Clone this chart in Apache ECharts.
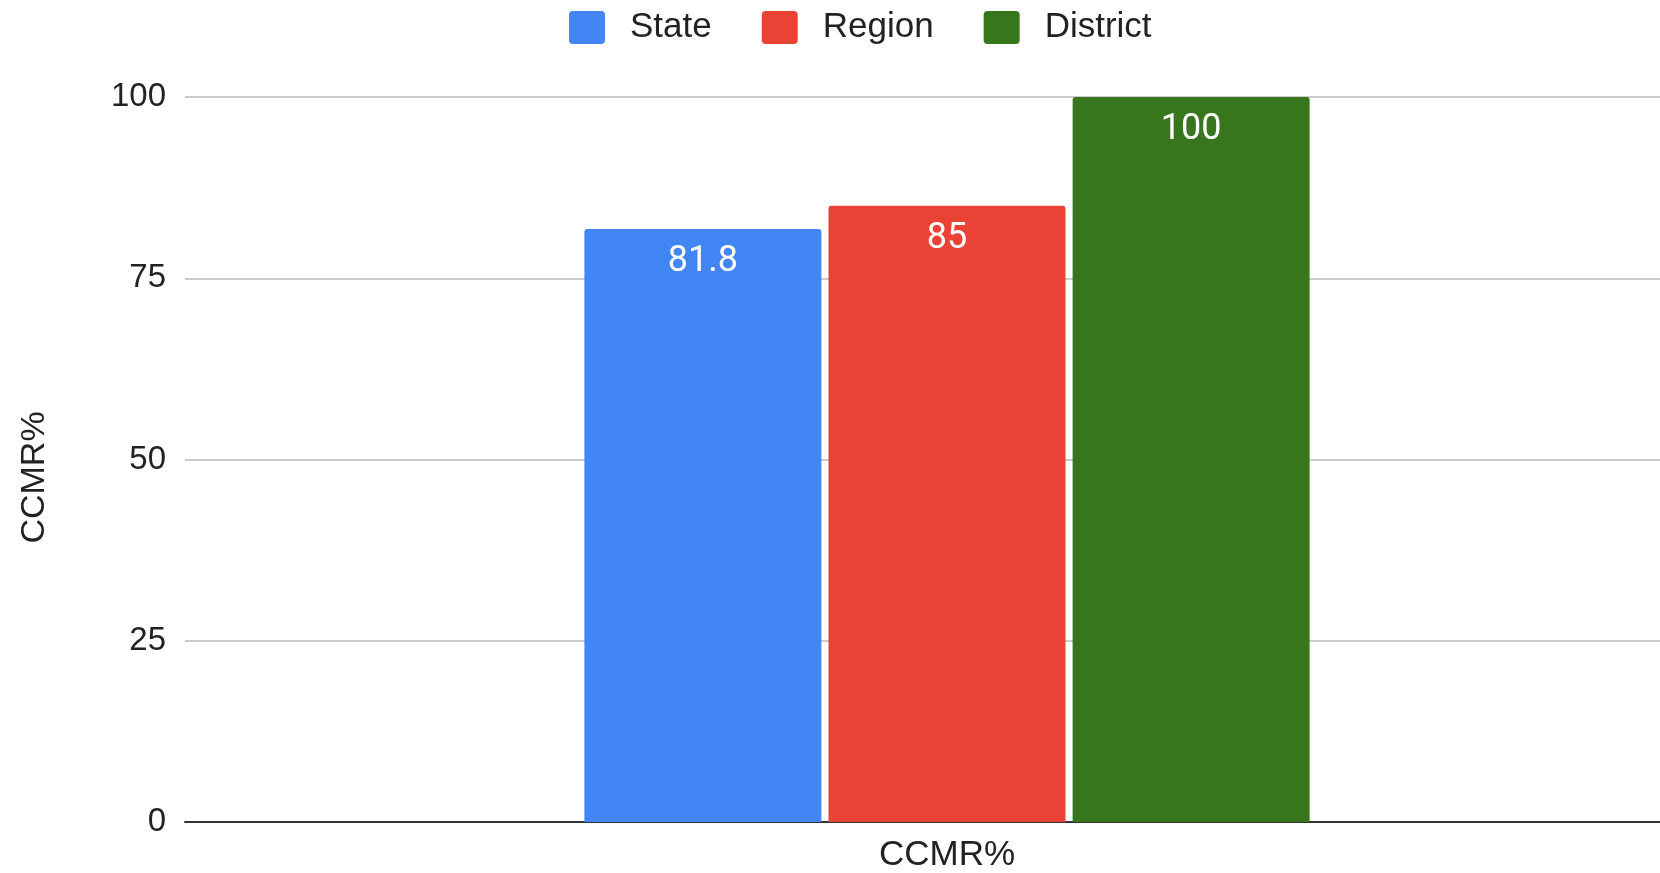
<!DOCTYPE html>
<html>
<head>
<meta charset="utf-8">
<script src="https://cdn.jsdelivr.net/npm/echarts@6/dist/echarts.min.js"></script>
<style>
    html, body { margin: 0; padding: 0; background: #fff; }
    #chart { width: 1660px; height: 873px; }
</style>
</head>
<body>
<div id="chart"></div>
<script>
    'use strict';

    var categories = ['CCMR%'];
    var seriesNames = ['State', 'Region', 'District'];
    var stateValues = [81.8];
    var regionValues = [85];
    var districtValues = [100];
    var yTicks = [0, 25, 50, 75, 100];

    var colors = ['#4285f4', '#ea4335', '#38761d'];
    var seriesValues = [stateValues, regionValues, districtValues];

    // small rounded square for the legend
    var legendIcon = 'path://M4,0 H32 Q36,0 36,4 V29 Q36,33 32,33 H4 Q0,33 0,29 V4 Q0,0 4,0 Z';

    var chart = echarts.init(document.getElementById('chart'));

    var series = seriesNames.map(function(name, i) {
        return {
            name: name,
            type: 'bar',
            data: seriesValues[i],
            barWidth: 237,
            barGap: '3%',
            itemStyle: { color: colors[i], borderRadius: [3, 3, 0, 0] },
            label: {
                show: true,
                position: 'insideTop',
                distance: 15,
                color: '#fff',
                fontSize: 36,
                fontFamily: 'Roboto',
                fontWeight: 'normal'
            }
        };
    });

    chart.setOption({
        animation: false,
        textStyle: { fontFamily: '"Liberation Sans", Arial, sans-serif' },
        legend: {
            left: 569,
            top: 10,
            padding: 0,
            itemWidth: 36,
            itemHeight: 33,
            itemGap: 50,
            icon: legendIcon,
            textStyle: { fontSize: 35, color: '#222', padding: [0, 0, 0, 20] },
            data: seriesNames
        },
        grid: {
            left: 185,
            top: 97,
            width: 1524,
            height: 725,
            containLabel: false,
            outerBoundsMode: 'none'
        },
        xAxis: {
            type: 'category',
            data: categories,
            axisLine: { lineStyle: { color: '#333', width: 2 } },
            axisTick: { show: false },
            axisLabel: { fontSize: 35, color: '#222', margin: 16 }
        },
        yAxis: {
            type: 'value',
            min: yTicks[0],
            max: yTicks[yTicks.length - 1],
            interval: 25,
            name: 'CCMR%',
            nameLocation: 'middle',
            nameRotate: 90,
            nameGap: 133,
            nameTextStyle: { fontSize: 34, color: '#222', padding: [0, 36, 0, 0] },
            axisLine: { show: false },
            axisTick: { show: false },
            axisLabel: { fontSize: 33, color: '#222', margin: 19 },
            splitLine: { lineStyle: { color: '#cccccc', width: 2 } }
        },
        series: series
    });
</script>
</body>
</html>
